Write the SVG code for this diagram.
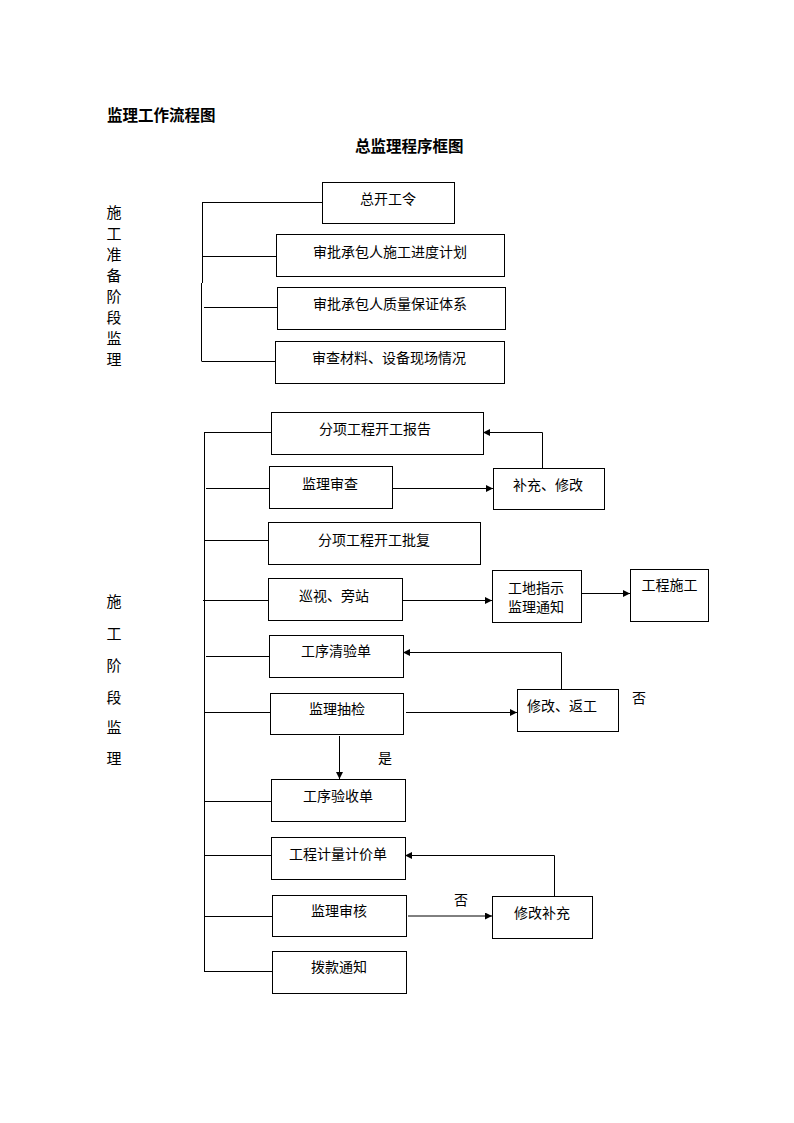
<svg xmlns="http://www.w3.org/2000/svg" width="794" height="1123" viewBox="0 0 794 1123">
<defs>
<style>
text{font-family:"Noto Sans CJK SC","Noto Sans CJK JP",sans-serif;font-size:14px;fill:#000;dominant-baseline:central;text-anchor:middle}
.t{font-size:15.5px;font-weight:bold;text-anchor:start}
.v{font-size:15px}
rect{fill:#fff;stroke:#000;stroke-width:1}
.c line,.c polyline{stroke:#000;stroke-width:1;fill:none}
</style>
<marker id="ah" markerUnits="userSpaceOnUse" markerWidth="8" markerHeight="7" refX="7" refY="3.5" orient="auto">
<path d="M0,0 L7,3.5 L0,7 z" fill="#000"/>
</marker>
</defs>
<rect x="0" y="0" width="794" height="1123" style="fill:#fff;stroke:none"/>
<text class="t" x="107" y="114">监理工作流程图</text>
<text class="t" x="355" y="145">总监理程序框图</text>
<g id="phase1-label">
<text class="v" x="114" y="211">施</text>
<text class="v" x="114" y="232">工</text>
<text class="v" x="114" y="253">准</text>
<text class="v" x="114" y="274">备</text>
<text class="v" x="114" y="295">阶</text>
<text class="v" x="114" y="316">段</text>
<text class="v" x="114" y="337">监</text>
<text class="v" x="114" y="358">理</text>
</g>
<g id="phase2-label">
<text class="v" x="114" y="600">施</text>
<text class="v" x="114" y="632">工</text>
<text class="v" x="114" y="664">阶</text>
<text class="v" x="114" y="696">段</text>
<text class="v" x="114" y="726">监</text>
<text class="v" x="114" y="757">理</text>
</g>
<g id="connectors" class="c">
<line x1="202.5" y1="202" x2="202.5" y2="283"/>
<line x1="201.5" y1="283" x2="201.5" y2="361.5"/>
<line x1="202" y1="202.5" x2="322" y2="202.5"/>
<line x1="202" y1="256.5" x2="276" y2="256.5"/>
<line x1="204" y1="307.5" x2="277" y2="307.5"/>
<line x1="202" y1="361.5" x2="275" y2="361.5"/>
<line x1="204.5" y1="432" x2="204.5" y2="971"/>
<line x1="204" y1="432.5" x2="271" y2="432.5"/>
<line x1="206" y1="488.5" x2="269" y2="488.5"/>
<line x1="204" y1="540.5" x2="268" y2="540.5"/>
<line x1="203" y1="600.5" x2="268" y2="600.5"/>
<line x1="206" y1="656.5" x2="269" y2="656.5"/>
<line x1="205" y1="712.5" x2="270" y2="712.5"/>
<line x1="204" y1="801.5" x2="272" y2="801.5"/>
<line x1="204" y1="855.5" x2="272" y2="855.5"/>
<line x1="205" y1="916.5" x2="272" y2="916.5"/>
<line x1="204" y1="971.5" x2="272" y2="971.5"/>
<line x1="392" y1="488.5" x2="493" y2="488.5" marker-end="url(#ah)"/>
<polyline points="542.5,468 542.5,432.5 483,432.5" marker-end="url(#ah)"/>
<line x1="402" y1="600.5" x2="492" y2="600.5" marker-end="url(#ah)"/>
<line x1="581" y1="593.5" x2="630" y2="593.5" marker-end="url(#ah)"/>
<polyline points="561.5,689 561.5,652.5 403,652.5" marker-end="url(#ah)"/>
<line x1="406" y1="712.5" x2="517" y2="712.5" marker-end="url(#ah)"/>
<line x1="339.5" y1="736" x2="339.5" y2="779" marker-end="url(#ah)"/>
<polyline points="554.5,896 554.5,855.5 405,855.5" marker-end="url(#ah)"/>
<line x1="408" y1="916" x2="492" y2="916" marker-end="url(#ah)"/>
</g>
<g id="n-kaigongling"><rect x="322.5" y="182.5" width="132" height="41"/><text x="388" y="198">总开工令</text></g>
<g id="n-jindu"><rect x="276.5" y="234.5" width="228" height="42"/><text x="390" y="251">审批承包人施工进度计划</text></g>
<g id="n-zhiliang"><rect x="277.5" y="287.5" width="228" height="42"/><text x="390" y="303">审批承包人质量保证体系</text></g>
<g id="n-cailiao"><rect x="275.5" y="341.5" width="229" height="42"/><text x="389" y="357">审查材料、设备现场情况</text></g>
<g id="n-baogao"><rect x="271.5" y="412.5" width="212" height="42"/><text x="375" y="428">分项工程开工报告</text></g>
<g id="n-shencha"><rect x="269.5" y="466.5" width="123" height="42"/><text x="330" y="483">监理审查</text></g>
<g id="n-buchong"><rect x="493.5" y="468.5" width="111" height="41"/><text x="548" y="484">补充、修改</text></g>
<g id="n-pifu"><rect x="268.5" y="522.5" width="212" height="42"/><text x="374" y="539">分项工程开工批复</text></g>
<g id="n-xunshi"><rect x="268.5" y="578.5" width="134" height="42"/><text x="334" y="595">巡视、旁站</text></g>
<g id="n-zhishi"><rect x="492.5" y="570.5" width="89" height="52"/><text x="536" y="587">工地指示</text><text x="536" y="606">监理通知</text></g>
<g id="n-shigong"><rect x="630.5" y="569.5" width="78" height="52"/><text x="669.5" y="584">工程施工</text></g>
<g id="n-qingyan"><rect x="269.5" y="635.5" width="134" height="42"/><text x="336" y="650">工序清验单</text></g>
<g id="n-choujian"><rect x="270.5" y="693.5" width="133" height="41"/><text x="337" y="708">监理抽检</text></g>
<g id="n-fangong"><rect x="517.5" y="689.5" width="101" height="42"/><text x="562" y="705">修改、返工</text></g>
<text x="639" y="697">否</text>
<text x="385" y="757">是</text>
<g id="n-yanshou"><rect x="271.5" y="779.5" width="134" height="42"/><text x="338" y="795">工序验收单</text></g>
<g id="n-jiliang"><rect x="271.5" y="837.5" width="134" height="42"/><text x="338" y="853">工程计量计价单</text></g>
<g id="n-shenhe"><rect x="272.5" y="895.5" width="134" height="41"/><text x="339" y="910">监理审核</text></g>
<text x="461" y="899">否</text>
<g id="n-xiugai"><rect x="492.5" y="896.5" width="100" height="42"/><text x="542" y="912">修改补充</text></g>
<g id="n-bokuan"><rect x="272.5" y="951.5" width="134" height="42"/><text x="339" y="966">拨款通知</text></g>
</svg>
